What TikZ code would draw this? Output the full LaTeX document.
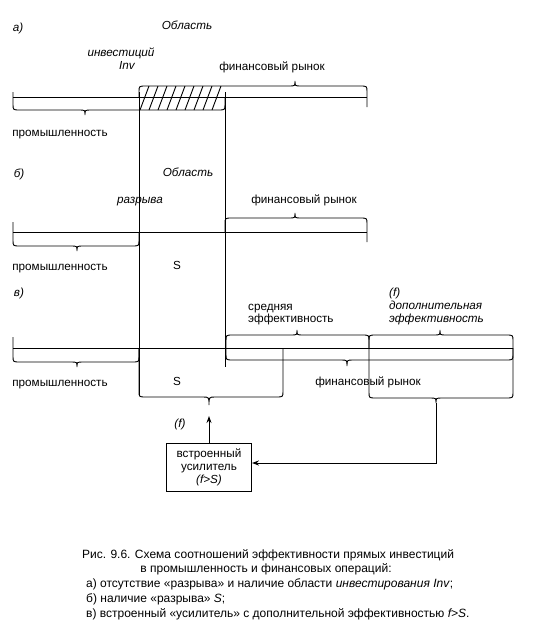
\documentclass[tikz,border=0pt]{standalone}
\usepackage{fontspec}
\setmainfont{Liberation Sans}
\usetikzlibrary{arrows.meta}
\newcommand\brc[7]{%
  \pgfmathsetmacro\bs{sign(#6-#2)}%
  \draw[ln] (#1,#2) -- (#1,{#6-\bs*6}) .. controls (#1,#6) .. ({#1+7},#6)
    -- ({#5-6},#6) .. controls (#5,#6) .. (#5,#7) .. controls (#5,#6) .. ({#5+6},#6)
    -- ({#3-7},#6) .. controls (#3,#6) .. (#3,{#6-\bs*6}) -- (#3,#4);}
\begin{document}
\begin{tikzpicture}[x=1pt,y=-1pt,
  ln/.style={line width=0.9pt,black},
  lbl/.style={inner sep=0pt,anchor=base,font=\fontsize{11.7}{13}\selectfont},
  ilbl/.style={lbl,font=\fontsize{11.7}{13}\selectfont\itshape},
  captxt/.style={inner sep=0pt,anchor=base,font=\fontsize{12}{13}\selectfont},
  arr/.style={ln,-{Stealth[length=7pt,width=5pt]}}]
\useasboundingbox[fill=white] (0,0) rectangle (544,624);
% ---------- а)
\node[ilbl] (la) at (18,31) {а)};
\node[ilbl] (oba) at (187,29) {Область};
\node[ilbl] (inv1) at (121,56) {инвестиций};
\node[ilbl] (inv2) at (127,69) {Inv};
\node[lbl] (fina) at (272,70) {финансовый рынок};
\node[lbl] (proma) at (60,136) {промышленность};
\draw[ln] (13,97) -- (367,97);
\begin{scope}
  \clip (139,86) rectangle (225,110);
  \foreach \h in {140,149,...,212} \draw[ln] (\h,110) -- (\h+9,86);
\end{scope}
\brc{13}{92}{225}{97}{85}{110}{115}
\brc{139}{97}{367}{107}{295}{86}{81}
% long verticals
\draw[ln] (139,92) -- (139,395);
\draw[ln] (225,92) -- (225,367);
% ---------- б)
\node[ilbl] (lb) at (19,177) {б)};
\node[ilbl] (obb) at (188,176) {Область};
\node[ilbl] (raz) at (140,203) {разрыва};
\node[lbl] (finb) at (304,203) {финансовый рынок};
\node[lbl] (promb) at (60,270) {промышленность};
\node[lbl] (sb) at (177,269) {S};
\draw[ln] (13,232) -- (367,232);
\brc{13}{222}{139}{232}{77}{246}{251}
\brc{225}{232}{367}{242}{295}{218}{213}
% ---------- в)
\node[ilbl] (lc) at (19,296) {в)};
\node[ilbl,anchor=base west] (fc) at (389,296) {(f)};
\node[ilbl,anchor=base west] (dop) at (389,309) {дополнительная};
\node[ilbl,anchor=base west] (eff2) at (389,322) {эффективность};
\node[lbl,anchor=base west] (sred) at (248,310) {средняя};
\node[lbl,anchor=base west] (eff1) at (248,322) {эффективность};
\node[lbl] (promc) at (60,386) {промышленность};
\node[lbl] (sc) at (177,385) {S};
\node[lbl] (finc) at (368,385) {финансовый рынок};
\draw[ln] (13,348) -- (513,348);
\brc{13}{337}{139}{348}{77}{362}{367}
\brc{139}{348}{283}{348}{209}{397}{405}
\brc{226}{348}{369}{348}{297}{335}{330}
\brc{369}{348}{513}{348}{440}{335}{330}
\brc{226}{348}{513}{348}{347}{360}{366}
\brc{369}{348}{513}{348}{436}{398}{403}
\coordinate (tipS) at (209,416);
\coordinate (tipF) at (436,403);
\node[ilbl] (f2) at (180,427) {(f)};
\node[draw,line width=0.9pt,minimum width=85pt,minimum height=48pt,inner sep=2pt,
  align=center,font=\fontsize{11.7}{13}\selectfont] (amp) at (209,467)
  {встроенный\\усилитель\\\textit{(f>S)}};
\draw[arr] (amp.north) -- (tipS);
\draw[arr] (tipF) |- ([yshift=4pt]amp.east);
% ---------- caption
\node[captxt] (c1) at (268,558) {Рис. 9.6. Схема соотношений эффективности прямых инвестиций};
\node[captxt] (c2) at (266,572) {в промышленность и финансовых операций:};
\node[captxt,anchor=base west] (c3) at (86,587) {а) отсутствие «разрыва» и наличие области \textit{инвестирования Inv};};
\node[captxt,anchor=base west] (c4) at (86,602) {б) наличие «разрыва» \textit{S};};
\node[captxt,anchor=base west] (c5) at (86,617) {в) встроенный «усилитель» с дополнительной эффективностью \textit{f>S}.};
\end{tikzpicture}
\end{document}
